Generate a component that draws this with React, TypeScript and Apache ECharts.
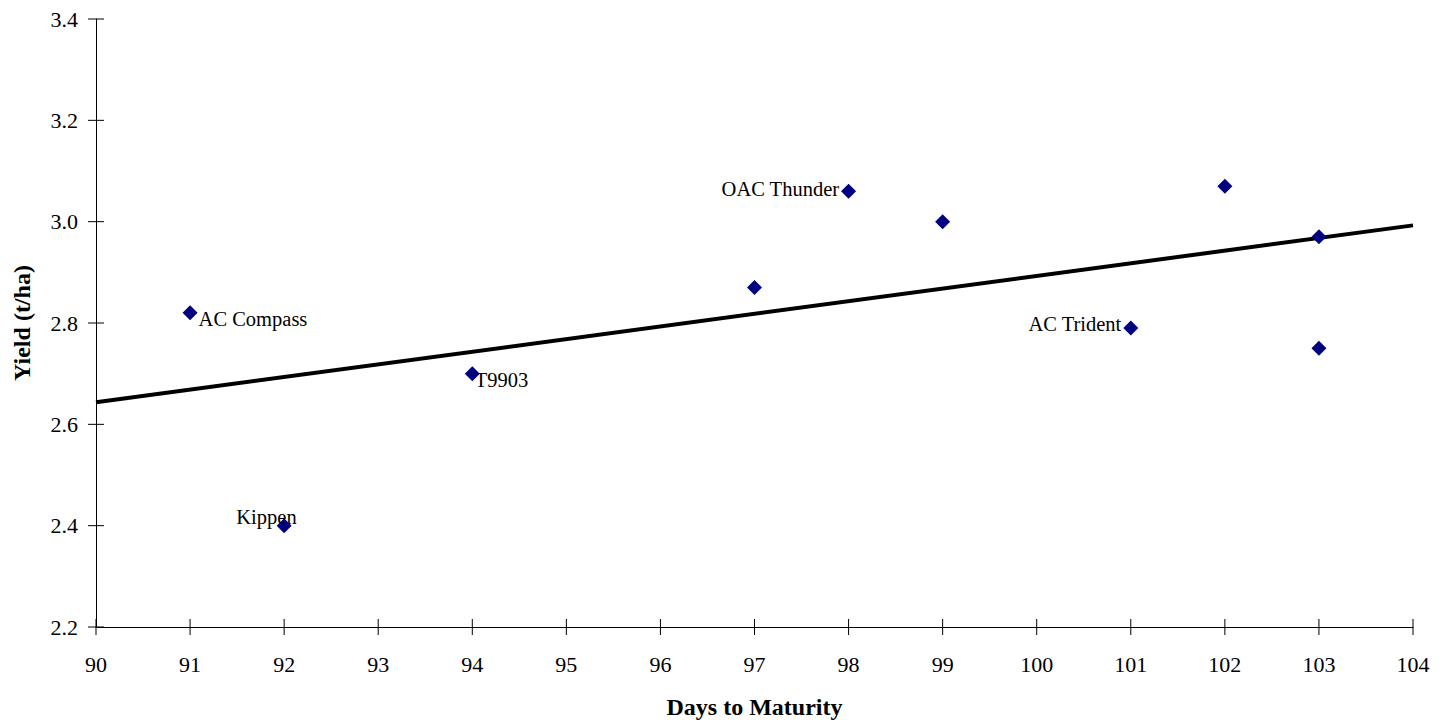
import React, { useEffect, useRef } from "react";
import * as echarts from "echarts";

const days = [91, 92, 94, 97, 98, 99, 101, 102, 103, 103];
const yields = [2.82, 2.4, 2.7, 2.87, 3.06, 3.0, 2.79, 3.07, 2.97, 2.75];
const names = ["AC Compass", "Kippen", "T9903", "", "OAC Thunder", "", "AC Trident", "", "", ""];
const xTicks = [90, 91, 92, 93, 94, 95, 96, 97, 98, 99, 100, 101, 102, 103, 104];
const yTicks = ["2.2", "2.4", "2.6", "2.8", "3.0", "3.2", "3.4"];

// label placement per named point: [position, dx, dy]
const labelPlace: Record<string, [string, number, number]> = {
  "AC Compass": ["right", -4, 6],
  Kippen: ["left", 25, -9],
  T9903: ["right", -10, 6],
  "OAC Thunder": ["left", 3, -2],
  "AC Trident": ["left", 3, -4],
};

function regression(xs: number[], ys: number[]) {
  const n = xs.length;
  const mx = xs.reduce((a, b) => a + b, 0) / n;
  const my = ys.reduce((a, b) => a + b, 0) / n;
  let sxy = 0;
  let sxx = 0;
  for (let i = 0; i < n; i++) {
    sxy += (xs[i] - mx) * (ys[i] - my);
    sxx += (xs[i] - mx) ** 2;
  }
  const slope = sxy / sxx;
  return { slope, intercept: my - slope * mx };
}

const W = 1450;
const H = 720;
const G = { left: 96, right: 37, top: 19, bottom: 93 };

export default function App() {
  const ref = useRef<HTMLDivElement>(null);
  useEffect(() => {
    document.body.style.margin = "0";
    const chart = echarts.init(ref.current!, undefined, { renderer: "svg" });
    const font = "'Liberation Serif', 'Times New Roman', serif";
    const { slope, intercept } = regression(days, yields);
    const xMin = xTicks[0];
    const xMax = xTicks[xTicks.length - 1];
    const trend = [
      [xMin, intercept + slope * xMin],
      [xMax, intercept + slope * xMax],
    ];
    const yVals = yTicks.map((t) => parseFloat(t));
    const yMin = yVals[0];
    const yMax = yVals[yVals.length - 1];

    const points = days.map((d, i) => {
      const nm = names[i];
      const item: any = { value: [d, yields[i]], name: nm };
      if (nm) {
        const p = labelPlace[nm];
        item.label = {
          show: true,
          formatter: nm,
          position: p[0],
          offset: [p[1], p[2]],
          color: "#000",
          fontFamily: font,
          fontSize: 20.5,
        };
      }
      return item;
    });

    const lineStyle = { color: "#000", width: 1 };

    chart.setOption({
      animation: false,
      backgroundColor: "#fff",
      grid: { ...G, containLabel: false, outerBoundsMode: "none" },
      xAxis: {
        type: "value",
        min: xMin,
        max: xMax,
        interval: 1,
        name: "Days to Maturity",
        nameLocation: "middle",
        nameGap: 68,
        nameTextStyle: { fontFamily: font, fontSize: 24, fontWeight: "bold", color: "#000" },
        axisLine: { show: true, lineStyle },
        axisTick: { show: false },
        axisLabel: { color: "#000", fontFamily: font, fontSize: 22, margin: 26 },
        splitLine: { show: false },
      },
      yAxis: {
        type: "value",
        min: yMin,
        max: yMax,
        interval: 0.2,
        name: "Yield (t/ha)",
        nameLocation: "middle",
        nameGap: 62,
        nameTextStyle: { fontFamily: font, fontSize: 24, fontWeight: "bold", color: "#000" },
        axisLine: { show: true, lineStyle },
        axisTick: { show: false },
        axisLabel: {
          color: "#000",
          fontFamily: font,
          fontSize: 22,
          margin: 18,
          formatter: (v: number) => v.toFixed(1),
        },
        splitLine: { show: false },
      },
      series: [
        {
          // cross ticks on the x axis
          type: "scatter",
          data: xTicks.map((t) => [t, yMin]),
          symbol: "rect",
          symbolSize: [1, 16],
          itemStyle: { color: "#000", opacity: 1 },
          silent: true,
          clip: false,
          z: 1,
        },
        {
          // cross ticks on the y axis
          type: "scatter",
          data: yVals.map((t) => [xMin, t]),
          symbol: "rect",
          symbolSize: [16, 1],
          itemStyle: { color: "#000", opacity: 1 },
          silent: true,
          clip: false,
          z: 1,
        },
        {
          type: "line",
          data: trend,
          symbol: "none",
          lineStyle: { color: "#000", width: 4 },
          z: 2,
          silent: true,
        },
        {
          type: "scatter",
          data: points,
          symbol: "diamond",
          symbolSize: 15,
          itemStyle: { color: "#000080", opacity: 1 },
          z: 3,
        },
      ],
    });
    return () => chart.dispose();
  }, []);
  return <div ref={ref} style={{ width: W, height: H }} />;
}
